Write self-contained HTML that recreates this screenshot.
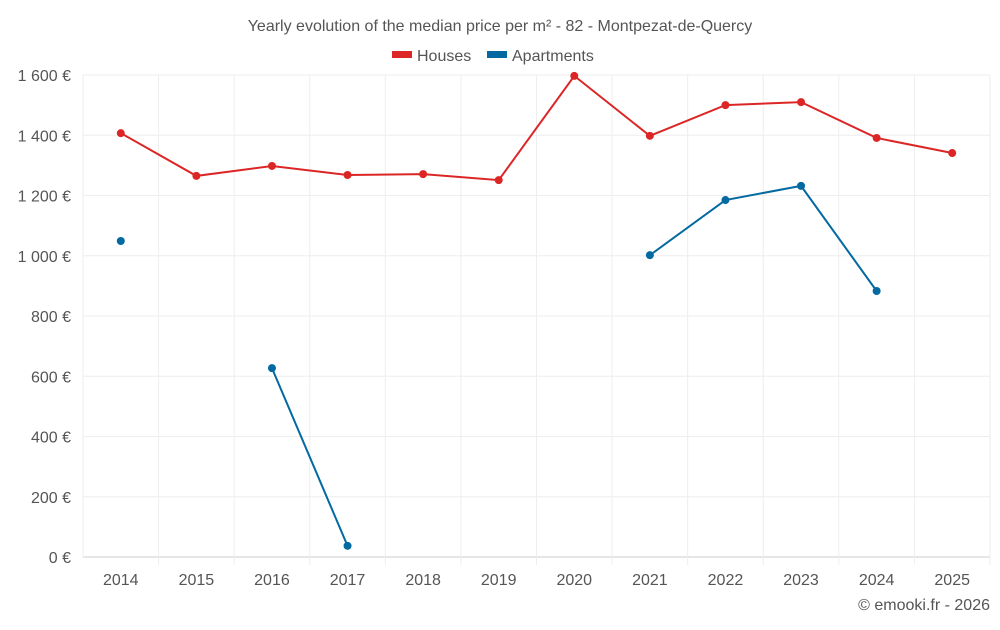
<!DOCTYPE html>
<html><head><meta charset="utf-8"><style>
body{margin:0;background:#fff;font-family:"Liberation Sans",sans-serif;}
svg text{font-family:"Liberation Sans",sans-serif;fill:#555;}
</style></head><body>
<svg id="c" width="1000" height="625">
<text x="500" y="31" text-anchor="middle" font-size="16">Yearly evolution of the median price per m² - 82 - Montpezat-de-Quercy</text>
<g>
<g><rect x="392" y="51" width="20" height="7" fill="#dc2626"/><text x="417" y="61" font-size="16">Houses</text></g>
<g><rect x="487" y="51" width="20" height="7" fill="#0369a1"/><text x="512" y="61" font-size="16">Apartments</text></g>
</g>
<g id="grid"></g><g id="axes"></g><g id="series"></g>
<text x="990" y="610" text-anchor="end" font-size="16">© emooki.fr - 2026</text>
</svg>
<script>
const years=[2014,2015,2016,2017,2018,2019,2020,2021,2022,2023,2024,2025];
const houses=[1407,1265,1298,1268,1271,1251,1597,1398,1500,1510,1391,1341];
const apartments=[1049,null,627,37,null,null,null,1002,1185,1232,883,null];
const yTicks=[0,200,400,600,800,1000,1200,1400,1600];
const yTickLabels=["0 €","200 €","400 €","600 €","800 €","1 000 €","1 200 €","1 400 €","1 600 €"];
const L=83,R=990,T=75,B=557,ymax=1600;
const bw=(R-L)/years.length;
const xs=i=>L+bw*(i+0.5);
const ys=v=>B-(v/ymax)*(B-T);
const NS="http://www.w3.org/2000/svg";
function mk(tag,attrs,parent){const e=document.createElementNS(NS,tag);for(const k in attrs)e.setAttribute(k,attrs[k]);document.getElementById(parent).appendChild(e);return e;}
yTicks.forEach((t,i)=>{
 const g=mk('line',{x1:L,x2:R,y1:ys(t),y2:ys(t),stroke:i==0?'#ccc':'#eee'},'grid');
 
 
 const tx=mk('text',{x:L-12,y:ys(t)+6,'text-anchor':'end','font-size':16},'axes');tx.textContent=yTickLabels[i];
 
 
});
for(let i=0;i<=years.length;i++){
 const g=mk('line',{x1:L+bw*i,x2:L+bw*i,y1:T,y2:B+(i>0?8:0),stroke:'#eee'},'grid');
 
 
}
years.forEach((y,i)=>{
 const tx=mk('text',{x:xs(i),y:585,'text-anchor':'middle','font-size':16},'axes');tx.textContent=y;
 
 
});
function series(data,color,name){
 let seg=[];const segs=[];
 data.forEach((v,i)=>{if(v==null){if(seg.length)segs.push(seg);seg=[];}else seg.push([xs(i),ys(v)]);});
 if(seg.length)segs.push(seg);
 segs.forEach(s=>{if(s.length>1){const p=mk('polyline',{points:s.map(p=>p.join(',')).join(' '),fill:'none',stroke:color,'stroke-width':2},'series');
  
  }});
 data.forEach((v,i)=>{if(v!=null){const c=mk('circle',{cx:xs(i),cy:ys(v),r:4,fill:color},'series');
  
  }});
}
series(houses,'#dc2626','houses');
series(apartments,'#0369a1','apartments');
</script>
</body></html>
